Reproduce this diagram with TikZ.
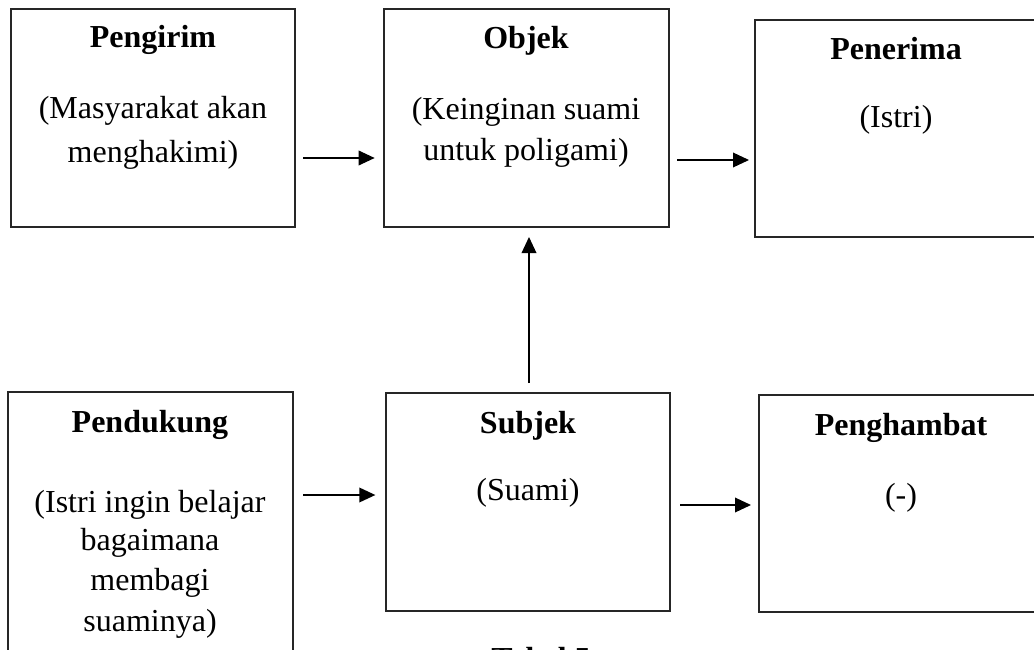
\documentclass[tikz,border=0pt]{standalone}
\usepackage{fontspec}
\setmainfont{Liberation Serif}
\usetikzlibrary{arrows.meta}
\begin{document}
\begin{tikzpicture}[x=0.75pt,y=-0.75pt,
  box/.style={draw=black!85, line width=1pt, anchor=north west, inner sep=0pt, outer sep=0pt},
  title/.style={anchor=base, inner sep=0pt, font=\fontsize{24}{29}\selectfont\bfseries},
  body/.style={anchor=base, inner sep=0pt, font=\fontsize{24}{29}\selectfont},
  arr/.style={line width=1pt, -{Triangle[length=12pt,width=11pt]}}]
\useasboundingbox (0,0) rectangle (1034,649);
\clip (0,0) rectangle (1034,649);

% boxes
\node[box, minimum width=213pt, minimum height=163.5pt] (pengirim) at (11,9) {};
\node[box, minimum width=213.75pt, minimum height=163.5pt] (objek) at (384,9) {};
\node[box, minimum width=228.75pt, minimum height=162.75pt] (penerima) at (755,20) {};
\node[box, minimum width=213.75pt, minimum height=216pt] (pendukung) at (8,392) {};
\node[box, minimum width=213pt, minimum height=163.5pt] (subjek) at (386,393) {};
\node[box, minimum width=225.75pt, minimum height=162.75pt] (penghambat) at (759,395) {};

% texts
\node[title] (t1) at (153,48) {Pengirim};
\node[body] (t1a) at (153,119) {(Masyarakat akan};
\node[body] (t1b) at (153,162) {menghakimi)};

\node[title] (t2) at (526,49) {Objek};
\node[body] (t2a) at (526,120) {(Keinginan suami};
\node[body] (t2b) at (526,161) {untuk poligami)};

\node[title] (t3) at (896,60) {Penerima};
\node[body] (t3a) at (896,128) {(Istri)};

\node[title] (t4) at (150,432) {Pendukung};
\node[body] (t4a) at (150,512) {(Istri ingin belajar};
\node[body] (t4b) at (150,550) {bagaimana};
\node[body] (t4c) at (150,590) {membagi};
\node[body] (t4d) at (150,631) {suaminya)};

\node[title] (t5) at (528,433) {Subjek};
\node[body] (t5a) at (528,500) {(Suami)};

\node[title] (t6) at (901,435) {Penghambat};
\node[body] (t6a) at (901,505) {(-)};

\node[title] (cap) at (541,669.5) {Tabel 5};

% connectors
\coordinate (r1) at (0,158);
\coordinate (r2) at (0,160);
\coordinate (r3) at (0,495);
\coordinate (r4) at (0,505);
\coordinate (c1) at (529,0);
\draw[arr, shorten <=6pt, shorten >=7pt] (pengirim.east |- r1) -- (objek.west |- r1);
\draw[arr, shorten <=6pt, shorten >=4.5pt] (objek.east |- r2) -- (penerima.west |- r2);
\draw[arr, shorten <=7.5pt, shorten >=8pt] (pendukung.east |- r3) -- (subjek.west |- r3);
\draw[arr, shorten <=7.5pt, shorten >=6pt] (subjek.east |- r4) -- (penghambat.west |- r4);
\draw[arr, shorten <=7.5pt, shorten >=7.5pt] (subjek.north -| c1) -- (objek.south -| c1);
\end{tikzpicture}
\end{document}
